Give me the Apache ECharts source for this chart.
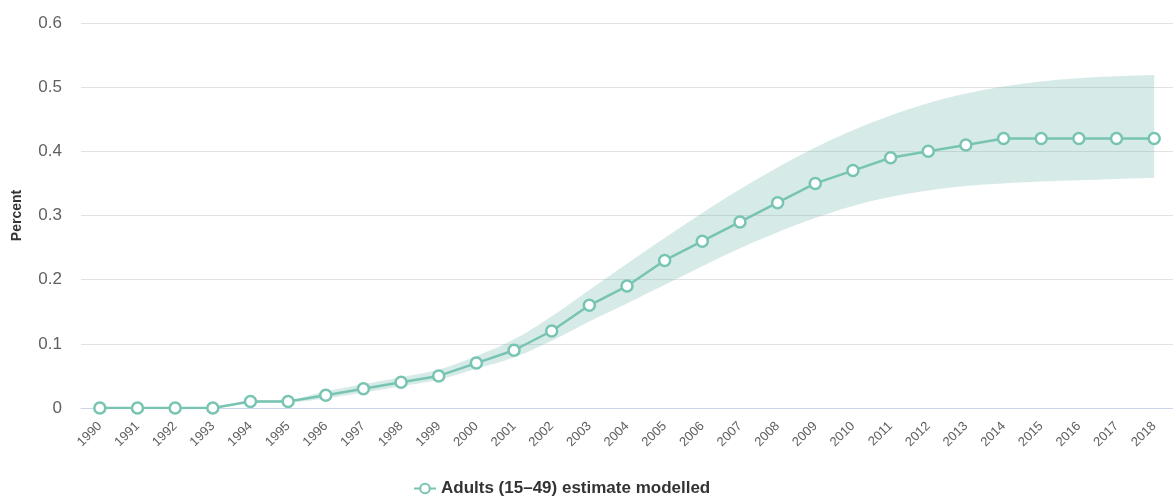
<!DOCTYPE html>
<html>
<head>
<meta charset="utf-8">
<script src="https://cdn.jsdelivr.net/npm/echarts@6/dist/echarts.min.js"></script>
<style>
  html, body { margin: 0; padding: 0; background: #fff; }
  #chart { width: 1173px; height: 497px; }
</style>
</head>
<body>
<div id="chart"></div>
<script>
const years = ['1990','1991','1992','1993','1994','1995','1996','1997','1998','1999',
  '2000','2001','2002','2003','2004','2005','2006','2007','2008','2009',
  '2010','2011','2012','2013','2014','2015','2016','2017','2018'];
const estimate = [0, 0, 0, 0, 0.01, 0.01, 0.02, 0.03, 0.04, 0.05,
  0.07, 0.09, 0.12, 0.16, 0.19, 0.23, 0.26, 0.29, 0.32, 0.35,
  0.37, 0.39, 0.40, 0.41, 0.42, 0.42, 0.42, 0.42, 0.42];
const lower = [0, 0, 0, 0, 0.008, 0.009, 0.015, 0.024, 0.034, 0.044,
  0.061, 0.079, 0.105, 0.135, 0.163, 0.192, 0.221, 0.249, 0.274, 0.296,
  0.315, 0.329, 0.339, 0.346, 0.35, 0.353, 0.355, 0.357, 0.359];
const upper = [0, 0, 0, 0, 0.012, 0.013, 0.026, 0.037, 0.048, 0.06,
  0.081, 0.107, 0.143, 0.184, 0.225, 0.265, 0.304, 0.341, 0.375, 0.406,
  0.433, 0.456, 0.475, 0.49, 0.501, 0.509, 0.514, 0.517, 0.519];

const lineColor = '#78c4b3';
const bandColor = 'rgba(108,180,170,0.28)';
const font = '"Liberation Sans", Arial, sans-serif';

const chart = echarts.init(document.getElementById('chart'));
chart.setOption({
  animation: false,
  textStyle: { fontFamily: font },
  grid: { left: 81, right: 0, top: 23, bottom: 89, containLabel: false, outerBoundsMode: 'none' },
  legend: {
    top: 478,
    left: 411,
    data: ['Adults (15–49) estimate modelled'],
    itemWidth: 22,
    itemHeight: 12,
    itemGap: 10,
    padding: 2,
    textStyle: { fontSize: 17, fontWeight: 'bold', color: '#333', fontFamily: font }
  },
  xAxis: {
    type: 'category',
    data: years,
    boundaryGap: true,
    axisLine: { lineStyle: { color: '#ccd6eb' } },
    axisTick: { length: 11, lineStyle: { color: '#ccd6eb' } },
    axisLabel: { rotate: 45, color: '#606060', fontSize: 13, margin: 16, interval: 0 },
    splitLine: { show: false }
  },
  yAxis: {
    type: 'value',
    min: 0,
    max: 0.6,
    interval: 0.1,
    name: 'Percent',
    nameLocation: 'middle',
    nameGap: 57,
    nameRotate: 90,
    nameTextStyle: { fontWeight: 'bold', color: '#333', fontSize: 14 },
    axisLine: { show: false },
    axisTick: { show: false },
    axisLabel: { color: '#606060', fontSize: 17, margin: 19 },
    splitLine: { lineStyle: { color: '#e2e2e2' } }
  },
  series: [
    {
      name: 'lower',
      type: 'line',
      data: lower,
      stack: 'band',
      smooth: 0.4,
      symbol: 'none',
      lineStyle: { opacity: 0 },
      silent: true
    },
    {
      name: 'range',
      type: 'line',
      data: upper.map((u, i) => +(u - lower[i]).toFixed(4)),
      stack: 'band',
      smooth: 0.4,
      symbol: 'none',
      lineStyle: { opacity: 0 },
      areaStyle: { color: bandColor, opacity: 1 },
      silent: true
    },
    {
      name: 'Adults (15–49) estimate modelled',
      type: 'line',
      data: estimate,
      symbol: 'circle',
      symbolSize: 11,
      z: 5,
      lineStyle: { color: lineColor, width: 2.5 },
      itemStyle: { color: '#fff', borderColor: lineColor, borderWidth: 2.5 }
    }
  ]
});
</script>
</body>
</html>
